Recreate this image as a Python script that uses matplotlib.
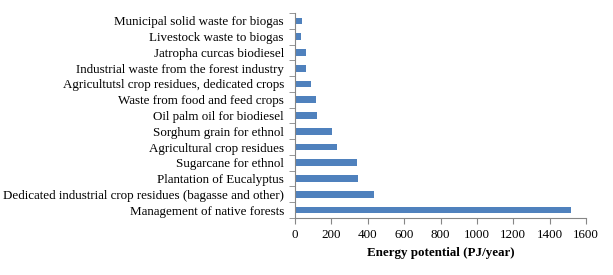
import matplotlib.pyplot as plt
import numpy as np

plt.rcParams['font.family'] = ['Liberation Serif', 'DejaVu Serif']
plt.rcParams['font.size'] = 9.35

categories = [
    "Management of native forests",
    "Dedicated industrial crop residues (bagasse and other)",
    "Plantation of Eucalyptus",
    "Sugarcane for ethnol",
    "Agricultural crop residues",
    "Sorghum grain for ethnol",
    "Oil palm oil for biodiesel",
    "Waste from food and feed crops",
    "Agricultutsl crop residues, dedicated crops",
    "Industrial waste from the forest industry",
    "Jatropha curcas biodiesel",
    "Livestock waste to biogas",
    "Municipal solid waste for biogas",
]
potential = [1519, 433, 345, 339, 229, 205, 123, 116, 86, 62, 59, 35, 37]
xticks = np.arange(0, 1601, 200)

fig = plt.figure(figsize=(6.13, 2.75), dpi=100)
ax = fig.add_axes([295 / 613, 57 / 275, 291 / 613, 205 / 275])

y = np.arange(len(categories))
ax.barh(y, potential, height=0.42, color='#4F81BD')

ax.set_xlim(0, 1600)
ax.set_ylim(-0.5, len(categories) - 0.5)
ax.set_xticks(xticks)
ax.set_yticks(y)
ax.set_yticklabels(categories)
ax.set_yticks(np.arange(-0.5, len(categories)), minor=True)
ax.tick_params(axis='y', which='major', length=0, pad=8)
ax.tick_params(axis='y', which='minor', length=4, color='#868686')
ax.tick_params(axis='x', length=4, color='#868686', pad=4)

for side in ['top', 'right']:
    ax.spines[side].set_visible(False)
for side in ['left', 'bottom']:
    ax.spines[side].set_color('#868686')

ax.set_xlabel("Energy potential (PJ/year)", fontweight='bold', labelpad=4)

fig.savefig('out.png', dpi=100)
